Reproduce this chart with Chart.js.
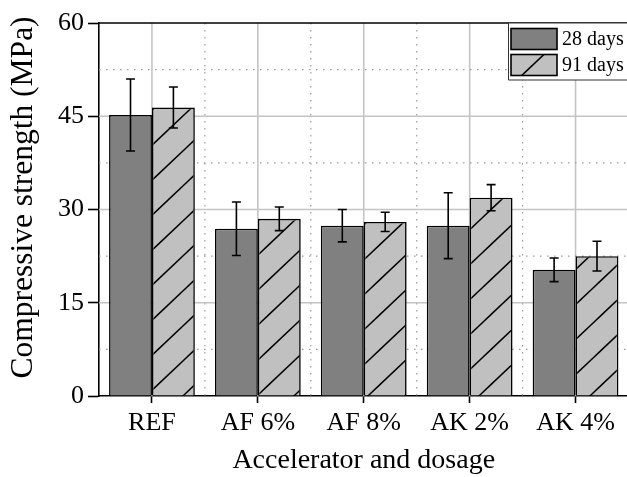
<!DOCTYPE html>
<html>
<head>
<meta charset="utf-8">
<script src="https://cdn.jsdelivr.net/npm/chart.js@4/dist/chart.umd.min.js"></script>
<style>
  html, body { margin: 0; padding: 0; background: #fff; overflow: hidden; }
  #wrap { width: 627px; height: 477px; overflow: hidden; position: relative; }
  #c { position: absolute; left: 0; top: 0; }
</style>
</head>
<body>
<div id="wrap"><canvas id="c" width="640" height="477"></canvas></div>
<script>
// Mean compressive strength (MPa) and standard deviation per mix
const categories = ['REF', 'AF 6%', 'AF 8%', 'AK 2%', 'AK 4%'];
const seriesNames = ['28 days', '91 days'];
const strength28 = [45.2, 26.9, 27.4, 27.4, 20.3];
const sd28 = [5.8, 4.3, 2.6, 5.3, 1.9];
const strength91 = [46.4, 28.5, 28.0, 31.9, 22.5];
const sd91 = [3.3, 1.9, 1.55, 2.1, 2.4];
const yTicks = [0, 15, 30, 45, 60];
const yTitle = 'Compressive strength (MPa)';
const xTitle = 'Accelerator and dosage';

const SERIF = "'Liberation Serif', 'Times New Roman', serif";
Chart.defaults.font.family = SERIF;
Chart.defaults.color = '#000';

const canvas = document.getElementById('c');
const ctx = canvas.getContext('2d');

// Light gray fill with "/" hatching, tiled seamlessly
function makeHatch() {
  const w = 37, h = 35, phase = 9, s = h / w;
  const t = document.createElement('canvas');
  t.width = w; t.height = h;
  const g = t.getContext('2d');
  g.fillStyle = '#c0c0c0';
  g.fillRect(0, 0, w, h);
  g.strokeStyle = '#000';
  g.lineWidth = 1.6;
  for (let k = -1; k <= 2; k++) {
    const c0 = phase + k * h;
    g.beginPath();
    g.moveTo(-3, c0 + 3 * s);
    g.lineTo(w + 3, c0 - (w + 3) * s);
    g.stroke();
  }
  return ctx.createPattern(t, 'repeat');
}
const hatch = makeHatch();
const fills = ['#808080', hatch];

// Background grid: solid at major positions, dotted halfway between
const gridPlugin = {
  id: 'grid',
  beforeDatasetsDraw(chart) {
    const { ctx: c, chartArea: a, scales: { x, y } } = chart;
    c.save();
    const line = (x1, y1, x2, y2, dotted) => {
      c.beginPath();
      c.setLineDash(dotted ? [1.5, 5.5] : []);
      c.strokeStyle = dotted ? '#9a9a9a' : '#c4c4c4';
      c.lineWidth = dotted ? 1.2 : 1.6;
      c.moveTo(x1, y1); c.lineTo(x2, y2); c.stroke();
    };
    for (let i = 0; i < categories.length; i++) {
      const px = x.getPixelForValue(i);
      line(px, a.top, px, a.bottom, false);
      if (i < categories.length - 1) {
        const nx = (px + x.getPixelForValue(i + 1)) / 2;
        line(nx, a.top, nx, a.bottom, true);
      }
    }
    for (let i = 0; i < yTicks.length - 1; i++) {
      const mid = y.getPixelForValue((yTicks[i] + yTicks[i + 1]) / 2);
      line(a.left, mid, a.right, mid, true);
      if (i > 0) {
        const py = y.getPixelForValue(yTicks[i]);
        line(a.left, py, a.right, py, false);
      }
    }
    c.restore();
  },
  afterDatasetsDraw(chart) {
    // top frame line
    const { ctx: c, chartArea: a } = chart;
    c.save();
    c.strokeStyle = '#000';
    c.lineWidth = 1.6;
    c.beginPath();
    c.moveTo(a.left, a.top); c.lineTo(a.right + 20, a.top);
    c.stroke();
    c.restore();
  }
};

// Error bars (± one standard deviation)
const errorBarPlugin = {
  id: 'errorBars',
  afterDatasetsDraw(chart) {
    const { ctx: c, scales: { y } } = chart;
    c.save();
    c.strokeStyle = '#000';
    c.lineWidth = 1.6;
    chart.data.datasets.forEach((ds, di) => {
      const meta = chart.getDatasetMeta(di);
      meta.data.forEach((bar, i) => {
        const v = ds.data[i], e = ds.errors[i];
        const top = y.getPixelForValue(v + e);
        const bot = y.getPixelForValue(v - e);
        const cx = bar.x, hw = 4.5;
        c.beginPath();
        c.moveTo(cx, top); c.lineTo(cx, bot);
        c.moveTo(cx - hw, top); c.lineTo(cx + hw, top);
        c.moveTo(cx - hw, bot); c.lineTo(cx + hw, bot);
        c.stroke();
      });
    });
    c.restore();
  }
};

// Vertical axis title, set a little above the axis midpoint
const yTitlePlugin = {
  id: 'yTitle',
  afterDraw(chart) {
    const { ctx: c, chartArea: a } = chart;
    c.save();
    c.translate(24, (a.top + a.bottom) / 2 - 12);
    c.rotate(-Math.PI / 2);
    c.font = '31.5px ' + SERIF;
    c.textAlign = 'center';
    c.textBaseline = 'middle';
    c.fillStyle = '#000';
    c.fillText(yTitle, 0, 0);
    c.restore();
  }
};

// Boxed legend in the upper right corner (box runs on past the edge)
const legendPlugin = {
  id: 'boxLegend',
  afterDraw(chart) {
    const { ctx: c, chartArea: a } = chart;
    const bx = 508.5, by = a.top, bh = 57, bx2 = 700;
    c.save();
    c.fillStyle = '#fff';
    c.fillRect(bx, by, bx2 - bx, bh);
    c.strokeStyle = '#333';
    c.lineWidth = 1;
    c.beginPath();
    c.moveTo(bx2, by); c.lineTo(bx, by); c.lineTo(bx, by + bh); c.lineTo(bx2, by + bh);
    c.stroke();
    c.font = '20px ' + SERIF;
    c.textBaseline = 'middle';
    chart.data.datasets.forEach((ds, i) => {
      const sy = by + 5.5 + i * 26;
      c.fillStyle = ds.backgroundColor;
      c.fillRect(511, sy, 46, 21);
      c.strokeStyle = '#000';
      c.lineWidth = 1.6;
      c.strokeRect(511, sy, 46, 21);
      c.fillStyle = '#000';
      c.fillText(ds.label, 562, sy + 11);
    });
    c.restore();
  }
};

new Chart(ctx, {
  type: 'bar',
  data: {
    labels: categories,
    datasets: [
      { label: seriesNames[0], data: strength28, errors: sd28, backgroundColor: fills[0] },
      { label: seriesNames[1], data: strength91, errors: sd91, backgroundColor: fills[1] }
    ].map(d => Object.assign(d, {
      borderColor: '#000', borderWidth: 1.6,
      categoryPercentage: 0.81, barPercentage: 1.0
    }))
  },
  options: {
    responsive: false,
    animation: false,
    events: [],
    layout: { padding: { top: 23, right: 11.5, left: 0, bottom: 0 } },
    plugins: { legend: { display: false }, tooltip: { enabled: false } },
    scales: {
      x: {
        type: 'category',
        offset: true,
        grid: { offset: false, drawOnChartArea: false, drawTicks: true, tickLength: 7, tickColor: '#000', tickWidth: 1.6 },
        border: { display: true, color: '#000', width: 1.6 },
        ticks: { font: { size: 26 }, color: '#000', padding: 5, maxRotation: 0, autoSkip: false },
        title: { display: true, text: xTitle, font: { size: 28 }, color: '#000', padding: { top: 0, bottom: 0 } },
        afterFit(scale) { scale.height = 81; }
      },
      y: {
        min: 0, max: 60,
        afterBuildTicks(scale) { scale.ticks = yTicks.map(v => ({ value: v })); },
        grid: { drawOnChartArea: false, drawTicks: true, tickLength: 11, tickColor: '#000', tickWidth: 1.6 },
        border: { display: true, color: '#000', width: 1.6 },
        ticks: { font: { size: 26 }, color: '#000', padding: 4 },
        title: { display: false },
        afterFit(scale) { scale.width = 99; }
      }
    }
  },
  plugins: [gridPlugin, errorBarPlugin, yTitlePlugin, legendPlugin]
});
</script>
</body>
</html>
